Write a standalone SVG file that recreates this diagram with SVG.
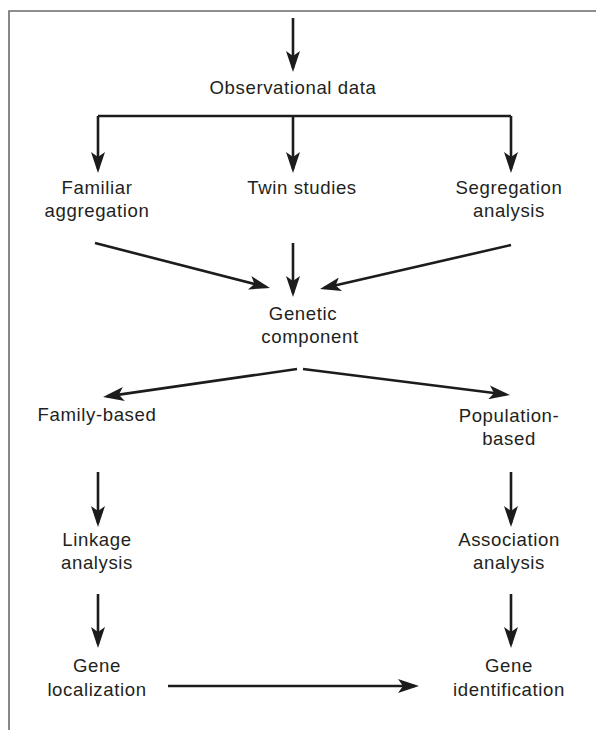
<svg xmlns="http://www.w3.org/2000/svg" width="596" height="730" viewBox="0 0 596 730">
<style>
.t{font-family:"Liberation Sans",Arial,sans-serif;font-size:18.6px;fill:#231f20;text-anchor:middle;letter-spacing:0.6px}
.c{stroke:#1c1c1c;stroke-width:2.6;fill:none}
.a{marker-end:url(#ah)}
</style>
<defs>
<marker id="ah" viewBox="0 0 21 14" refX="17" refY="7" markerWidth="21" markerHeight="14" markerUnits="userSpaceOnUse" orient="auto">
<path d="M0,0 L21,7 L0,14 L5,7 Z" fill="#1c1c1c"/>
</marker>
</defs>
<rect width="596" height="730" fill="#ffffff"/>
<g id="frame" stroke="#6a6a6a" fill="none">
<path d="M596,11 H9 V730" stroke-width="1.6"/>
</g>
<g id="connectors">
<line class="c a" x1="293" y1="18" x2="293" y2="68"/>
<path class="c" d="M98,116 H511"/>
<line class="c a" x1="98" y1="116" x2="98" y2="169"/>
<line class="c a" x1="293" y1="116" x2="293" y2="169"/>
<line class="c a" x1="511" y1="116" x2="511" y2="169"/>
<line class="c a" x1="95" y1="243" x2="266.1" y2="287"/>
<line class="c a" x1="293" y1="243" x2="293" y2="293"/>
<line class="c a" x1="511" y1="245" x2="323.9" y2="288.1"/>
<line class="c a" x1="297" y1="369" x2="107" y2="396.4"/>
<line class="c a" x1="303" y1="369" x2="506" y2="394.5"/>
<line class="c a" x1="98" y1="472" x2="98" y2="523"/>
<line class="c a" x1="511" y1="472" x2="511" y2="523"/>
<line class="c a" x1="98" y1="594" x2="98" y2="644"/>
<line class="c a" x1="511" y1="594" x2="511" y2="644"/>
<line class="c a" x1="168" y1="686" x2="415" y2="686"/>
</g>
<g id="observational"><text class="t" x="293" y="94">Observational data</text></g>
<g id="familiar"><text class="t" x="97" y="194">Familiar</text><text class="t" x="97" y="217">aggregation</text></g>
<g id="twin"><text class="t" x="302" y="194">Twin studies</text></g>
<g id="segregation"><text class="t" x="509" y="194">Segregation</text><text class="t" x="509" y="217">analysis</text></g>
<g id="genetic"><text class="t" x="303" y="320">Genetic</text><text class="t" x="310" y="343">component</text></g>
<g id="family"><text class="t" x="97" y="421">Family-based</text></g>
<g id="population"><text class="t" x="509" y="422">Population-</text><text class="t" x="509" y="445">based</text></g>
<g id="linkage"><text class="t" x="97" y="546">Linkage</text><text class="t" x="97" y="569">analysis</text></g>
<g id="association"><text class="t" x="509" y="546">Association</text><text class="t" x="509" y="569">analysis</text></g>
<g id="localization"><text class="t" x="97" y="672">Gene</text><text class="t" x="97" y="696">localization</text></g>
<g id="identification"><text class="t" x="509" y="672">Gene</text><text class="t" x="509" y="696">identification</text></g>
</svg>
